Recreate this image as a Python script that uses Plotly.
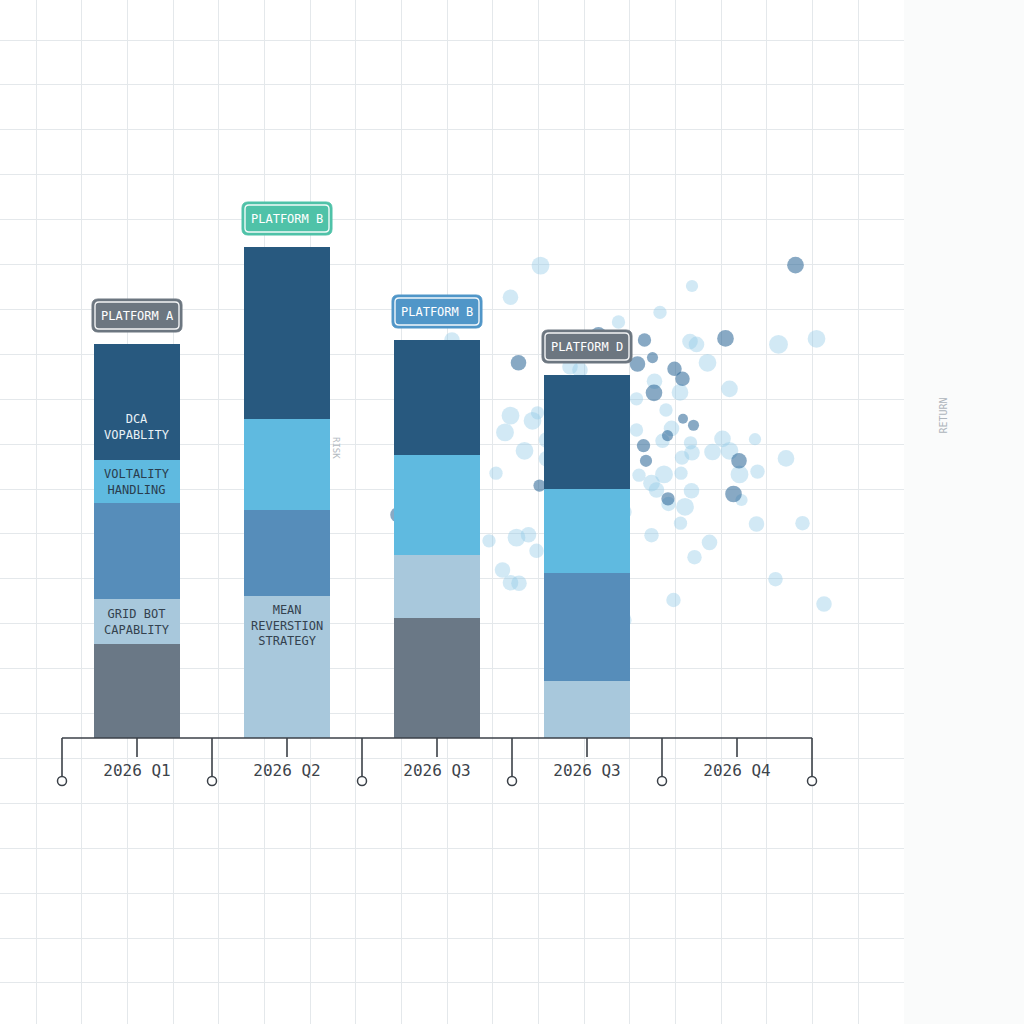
import plotly.graph_objects as go

# ---------------- data ----------------
quarters = ["2026 Q1", "2026 Q2", "2026 Q3", "2026 Q3", "2026 Q4"]
platforms = ["PLATFORM A", "PLATFORM B", "PLATFORM B", "PLATFORM D"]
platform_colors = ["#6c7680", "#4fc2a8", "#5096c8", "#6c7680"]

# stacked scores per bar, bottom to top
core_score = [23.5, 0.0, 30.0, 0.0]
grid_bot = [11.25, 35.5, 15.75, 14.25]
mean_reversion = [24.0, 21.5, 0.0, 27.0]
volatility = [10.75, 22.75, 25.0, 21.0]
dca = [29.0, 43.0, 28.75, 28.5]

series = [
    ("Core Score", core_score, "#6a7886"),
    ("Grid Bot Capability", grid_bot, "#a8c8dc"),
    ("Mean Reversion Strategy", mean_reversion, "#568dba"),
    ("Volatility Handling", volatility, "#5fbae0"),
    ("DCA Capability", dca, "#28597f"),
]

# segment labels: (bar index, series index, text, colour, shift px)
segment_labels = [
    (0, 4, "DCA<br>VOPABLITY", "#e9f1f6", -25),
    (0, 3, "VOLTALITY<br>HANDLING", "#2a3d4e", 0),
    (0, 1, "GRID BOT<br>CAPABLITY", "#34424f", 0),
    (1, 1, "MEAN<br>REVERSTION<br>STRATEGY", "#34424f", 42),
]

# risk / return bubbles
risk_light = [32.1, 26.1, 62.4, 56.0, 47.7, 62.0, 63.3, 79.7, 87.3, 65.5, 38.0, 40.0,
              69.9, 54.9, 60.0, 51.3, 57.2, 26.1, 31.5, 30.5, 25.0, 28.9, 33.3, 33.3,
              51.3, 58.3, 62.1, 62.4, 56.5, 60.4, 66.5, 68.5, 69.9, 75.0, 81.2, 23.2,
              51.8, 56.8, 60.2, 54.3, 55.3, 62.3, 71.9, 75.5, 72.3, 61.0, 60.1, 75.3,
              84.5, 21.8, 27.3, 29.7, 31.3, 54.3, 65.9, 62.9, 24.5, 26.1, 27.8, 58.7,
              79.1, 88.8, 57.7, 14.4, 49.0, 49.0]
return_light = [88.6, 80.7, 83.5, 76.9, 74.5, 69.6, 68.9, 68.9, 70.3, 64.3, 63.3, 62.5,
                57.8, 59.7, 56.9, 55.3, 52.5, 51.1, 51.8, 49.8, 46.9, 42.3, 45.0, 40.3,
                47.5, 47.9, 44.3, 41.8, 44.8, 40.6, 42.0, 45.3, 42.3, 45.2, 40.4, 36.7,
                36.2, 36.4, 36.7, 34.2, 32.5, 32.3, 36.4, 37.1, 30.0, 28.3, 24.2, 24.0,
                24.2, 19.8, 20.6, 21.3, 17.3, 21.2, 19.4, 15.7, 12.5, 9.3, 9.2, 5.0,
                10.2, 4.0, 29.0, 70.0, 27.0, 0.0]
size_light = [16, 14, 11, 12, 12, 14, 14, 17, 16, 16, 14, 14,
              15, 14, 15, 12, 12, 16, 12, 16, 16, 16, 14, 14,
              12, 14, 12, 14, 13, 13, 15, 15, 16, 11, 15, 12,
              12, 16, 12, 15, 14, 14, 16, 13, 11, 16, 12, 14,
              13, 12, 16, 14, 13, 13, 14, 13, 14, 14, 14, 13,
              13, 14, 13, 14, 12, 12]

risk_dark = [83.1, 52.9, 69.1, 27.7, 54.5, 51.5, 58.9, 60.5, 54.8, 43.7,
             62.7, 57.5, 52.7, 53.2, 31.9, 57.6, 71.8, 70.7, 60.6, 3.6]
return_dark = [88.7, 70.0, 70.4, 64.3, 65.6, 64.0, 62.8, 60.3, 56.8, 71.3,
               48.7, 46.1, 43.6, 39.8, 33.6, 30.3, 39.8, 31.5, 50.3, 26.3]
size_dark = [15, 12, 15, 14, 10, 14, 13, 13, 15, 14,
             10, 10, 12, 11, 11, 12, 14, 15, 9, 14]

# ---------------- figure ----------------
DOM = [0, 904 / 1024]
fig = go.Figure()

# bubbles (risk / return) on the main axes
fig.add_trace(go.Scatter(
    x=risk_light, y=return_light, mode="markers", xaxis="x", yaxis="y",
    marker=dict(size=size_light, sizeref=0.9, color="rgba(145,202,230,0.58)", line=dict(width=0)),
    hoverinfo="skip", showlegend=False, cliponaxis=False))
fig.add_trace(go.Scatter(
    x=risk_dark, y=return_dark, mode="markers", xaxis="x", yaxis="y",
    marker=dict(size=size_dark, sizeref=0.9, color="rgba(42,102,150,0.8)", line=dict(width=0)),
    hoverinfo="skip", showlegend=False, cliponaxis=False))

# stacked bars
nbars = len(platforms)
xs = list(range(nbars))
for name, vals, col in series:
    fig.add_trace(go.Bar(
        x=xs, y=vals, name=name, marker=dict(color=col, line=dict(width=0)),
        width=0.567, xaxis="x2", yaxis="y2", showlegend=False))

# timeline axis built from categories
n = len(quarters)
bounds = [i - 0.5 for i in range(n + 1)]
DROP = -10.75
TICK = -4.75
LABEL_Y = -8.5
line_col = "#3b4148"
fig.add_trace(go.Scatter(
    x=[bounds[0], bounds[-1]], y=[0, 0], mode="lines", xaxis="x2", yaxis="y2",
    line=dict(color=line_col, width=1.6), hoverinfo="skip", showlegend=False))
dx, dy = [], []
for b in bounds:
    dx += [b, b, None]
    dy += [0, DROP, None]
for i in range(n):
    dx += [i, i, None]
    dy += [0, TICK, None]
fig.add_trace(go.Scatter(
    x=dx, y=dy, mode="lines", xaxis="x2", yaxis="y2",
    line=dict(color=line_col, width=1.6), hoverinfo="skip", showlegend=False))
fig.add_trace(go.Scatter(
    x=bounds, y=[DROP] * len(bounds), mode="markers", xaxis="x2", yaxis="y2",
    marker=dict(size=9, color="white", line=dict(color=line_col, width=1.5)),
    hoverinfo="skip", showlegend=False))
fig.add_trace(go.Scatter(
    x=list(range(n)), y=[LABEL_Y] * n, text=quarters, mode="text",
    xaxis="x2", yaxis="y2", textposition="middle center",
    textfont=dict(family="DejaVu Sans Mono", size=16, color="#3d434a"),
    hoverinfo="skip", showlegend=False))


def rounded_rect(w, h, r, y0):
    """SVG path (pixels, relative to anchor) of a rounded rectangle."""
    x0, x1 = -w / 2, w / 2
    y1 = y0 + h
    return (f"M{x0 + r},{y0} L{x1 - r},{y0} Q{x1},{y0} {x1},{y0 + r} "
            f"L{x1},{y1 - r} Q{x1},{y1} {x1 - r},{y1} L{x0 + r},{y1} "
            f"Q{x0},{y1} {x0},{y1 - r} L{x0},{y0 + r} Q{x0},{y0} {x0 + r},{y0} Z")


TAG_W, TAG_H, TAG_GAP = 90, 33, 12
shapes = []
annotations = []
totals = [sum(s[1][i] for s in series) for i in range(nbars)]
for i, (lab, col) in enumerate(zip(platforms, platform_colors)):
    shapes.append(dict(type="path", xref="x2", yref="y2", xsizemode="pixel", ysizemode="pixel",
                       xanchor=i, yanchor=totals[i],
                       path=rounded_rect(TAG_W, TAG_H, 6, TAG_GAP),
                       fillcolor=col, line=dict(color=col, width=1), layer="above"))
    shapes.append(dict(type="path", xref="x2", yref="y2", xsizemode="pixel", ysizemode="pixel",
                       xanchor=i, yanchor=totals[i],
                       path=rounded_rect(TAG_W - 6, TAG_H - 6, 4, TAG_GAP + 3),
                       fillcolor="rgba(0,0,0,0)", line=dict(color="rgba(255,255,255,0.92)", width=1.4),
                       layer="above"))
    annotations.append(dict(
        x=i, y=totals[i], xref="x2", yref="y2", text=lab, showarrow=False,
        yanchor="middle", yshift=TAG_GAP + TAG_H / 2,
        font=dict(family="DejaVu Sans Mono", size=12, color="white")))

# segment labels
for bi, si, txt, tcol, shift in segment_labels:
    bottom = sum(series[k][1][bi] for k in range(si))
    top = bottom + series[si][1][bi]
    annotations.append(dict(
        x=bi, y=(bottom + top) / 2, xref="x2", yref="y2", text=txt, showarrow=False,
        yshift=shift, font=dict(family="DejaVu Sans Mono", size=12, color=tcol)))

# axis captions
annotations.append(dict(x=-8.8, y=43, xref="x", yref="y", text="RISK", showarrow=False,
                        textangle=90, font=dict(family="DejaVu Sans Mono", size=9, color="#b3bac1")))
annotations.append(dict(x=950 / 1024, y=1 - 416 / 1024, xref="paper", yref="paper", text="RETURN",
                        showarrow=False, textangle=-90,
                        font=dict(family="DejaVu Sans Mono", size=10, color="#aeb5bc")))

hidden = dict(showgrid=False, zeroline=False, showticklabels=False, showline=False, ticks="")
grid_col = "#e4e8eb"
fig.update_layout(
    width=1024, height=1024,
    margin=dict(l=0, r=0, t=0, b=0, pad=0),
    paper_bgcolor="#fafbfb", plot_bgcolor="#ffffff",
    barmode="stack", bargap=0,
    # risk axis: grid every 9.136 units
    xaxis=dict(domain=DOM, range=[-76, 104.8], tick0=-68.8, dtick=9.136, showgrid=True,
               gridcolor=grid_col, gridwidth=1.3, zeroline=False, showticklabels=False,
               showline=False, ticks=""),
    # return axis: grid every 11.225 units
    yaxis=dict(domain=[0, 1], range=[-101, 155], tick0=145, dtick=11.225, showgrid=True,
               gridcolor=grid_col, gridwidth=1.3, zeroline=False, showticklabels=False,
               showline=False, ticks=""),
    xaxis2=dict(domain=DOM, range=[-0.91333, 5.11333], overlaying="x", anchor="y2", **hidden),
    yaxis2=dict(domain=[0, 1], range=[-71.5, 184.5], overlaying="y", anchor="x2", **hidden),
    shapes=shapes,
    annotations=annotations,
    showlegend=False,
)

fig.write_html("out.html", config={"displayModeBar": False},
               post_script="document.body.style.margin='0';")
